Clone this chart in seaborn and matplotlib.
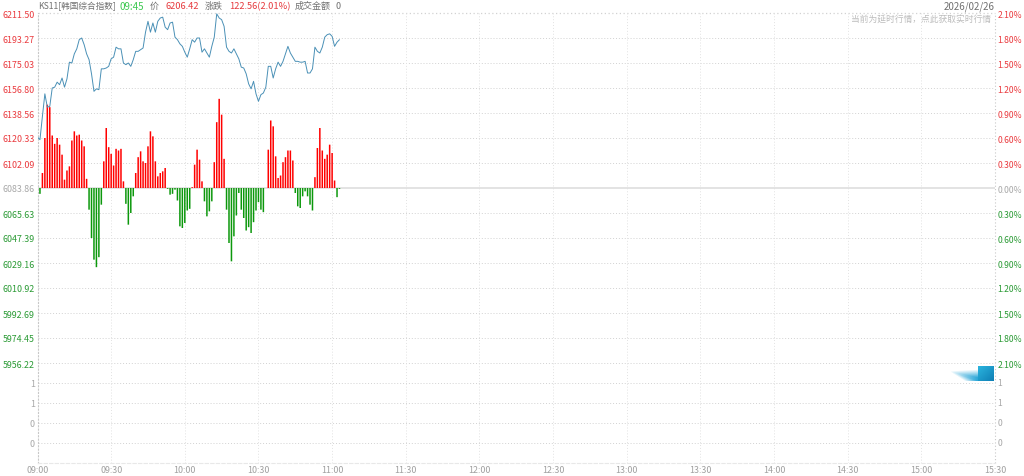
import numpy as np
import pandas as pd
import matplotlib
matplotlib.use("Agg")
import matplotlib.pyplot as plt
import seaborn as sns

time_labels = ["09:00","09:30","10:00","10:30","11:00","11:30","12:00","12:30","13:00","13:30","14:00","14:30","15:00","15:30"]
price_labels = ["6211.50","6193.27","6175.03","6156.80","6138.56","6120.33","6102.09","6083.86","6065.63","6047.39","6029.16","6010.92","5992.69","5974.45","5956.22"]
pct_labels = ["2.10%","1.80%","1.50%","1.20%","0.90%","0.60%","0.30%","0.00%","0.30%","0.60%","0.90%","1.20%","1.50%","1.80%","2.10%"]
pct_ticks = [2.1,1.8,1.5,1.2,0.9,0.6,0.3,0.0,-0.3,-0.6,-0.9,-1.2,-1.5,-1.8,-2.1]
volume_labels = ["1","1","0","0"]
volume_ticks = [-2.34,-2.58,-2.82,-3.06]

line_pct = [.61,.58,.86,1.13,.97,.98,1.20,1.21,1.27,1.24,1.32,1.21,1.31,1.51,1.50,1.61,1.67,1.78,1.80,1.72,1.61,1.54,1.37,1.16,1.19,1.18,1.43,1.43,1.44,1.46,1.55,1.57,1.69,1.67,1.67,1.50,1.48,1.50,1.46,1.54,1.64,1.64,1.66,1.68,1.87,2.00,1.87,1.98,1.87,2.00,2.04,2.05,1.93,1.90,1.98,1.99,1.81,1.78,1.73,1.70,1.63,1.57,1.67,1.78,1.75,1.80,1.80,1.63,1.67,1.62,1.57,1.70,1.81,2.09,2.04,2.02,1.94,1.69,1.64,1.62,1.67,1.61,1.55,1.45,1.44,1.37,1.25,1.19,1.28,1.13,1.04,1.12,1.14,1.21,1.46,1.46,1.32,1.43,1.51,1.46,1.52,1.61,1.70,1.62,1.57,1.52,1.52,1.51,1.51,1.52,1.38,1.38,1.43,1.69,1.64,1.62,1.69,1.81,1.84,1.85,1.82,1.70,1.75,1.78]
bar_pct = [0,-.07,.18,.60,1.00,.97,.63,.53,.60,.52,.40,.10,.21,.26,.57,.68,.63,.64,.57,.50,.11,-.26,-.60,-.86,-.95,-.83,-.20,.32,.72,.49,.41,.27,.47,.45,.47,.08,-.19,-.44,-.30,-.10,.18,.37,.44,.32,.30,.50,.68,.62,.32,.14,.18,.20,.24,-.01,-.08,-.07,-.02,-.15,-.46,-.48,-.42,-.27,-.25,.01,.28,.46,.34,.08,-.16,-.34,-.28,-.16,.31,.79,1.07,.88,.35,-.26,-.66,-.88,-.58,-.33,-.06,-.26,-.36,-.51,-.47,-.54,-.41,-.27,-.17,-.26,-.29,0,.46,.81,.74,.38,.12,.15,.31,.37,.45,.45,.33,-.06,-.22,-.24,-.10,-.04,-.10,-.20,-.27,.13,.48,.72,.45,.35,.40,.52,.42,.09,-.11,-.01]

sns.set_style("white")
plt.rcParams["font.family"] = ["Noto Sans CJK SC", "DejaVu Sans"]

W, H = 1024, 477
L, R, T, B = 37.5, 995.0, 14.0, 464.0
fig = plt.figure(figsize=(W/100, H/100), dpi=100, facecolor="white")
ax = fig.add_axes([L/W, 1-B/H, (R-L)/W, (B-T)/H])

minutes = np.arange(len(bar_pct))
df_bar = pd.DataFrame({"minute": minutes, "pct": bar_pct})
df_bar["side"] = np.where(df_bar["pct"] >= 0, "up", "down")
sns.barplot(data=df_bar, x="minute", y="pct", hue="side", palette={"up": "#ff0000", "down": "#0c980c"},
            native_scale=True, dodge=False, width=0.62, saturation=1, legend=False, ax=ax, linewidth=0, zorder=3)
for patch in ax.patches:
    patch.set_snap(False)
df_line = pd.DataFrame({"minute": np.arange(len(line_pct)), "pct": line_pct})
sns.lineplot(data=df_line, x="minute", y="pct", color="#4a90b6", lw=0.7, ax=ax, zorder=4, errorbar=None)

ax.set_xlim(0, 390)
ax.set_ylim(-3.30, 2.10)
ax.set_xlabel(""); ax.set_ylabel("")
xt = np.arange(len(time_labels)) * 30
ax.set_xticks(xt)
ax.set_xticklabels(time_labels)
ax.set_yticks(pct_ticks + volume_ticks)
ax.set_yticklabels(price_labels + volume_labels)
ax.tick_params(axis="both", length=0, labelsize=6.4, pad=2.0)
ax.tick_params(axis="x", labelcolor="#a0a0a0", pad=1.5)
for lab, val in zip(ax.get_yticklabels(), pct_ticks + volume_ticks):
    lab.set_color("#ea3a3e" if val > 0 and val <= 2.1 else "#a8a8a8" if val == 0 or val < -2.2 else "#2a9a34")

dots = (0, (1, 2))
for v in pct_ticks[1:] + volume_ticks:
    if v != 0:
        ax.axhline(v, color="#d2d2d2", lw=0.7, ls=dots, zorder=1)
ax.axhline(2.1, color="#d2d2d2", lw=0.9, ls=dots, clip_on=False, zorder=1)
ax.axhline(0, color="#dedede", lw=1.2, zorder=2)
for x in xt[1:-1]:
    ax.axvline(x, color="#e2e2e2", lw=0.7, ls=dots, zorder=1)
for side in ["top", "right"]:
    ax.spines[side].set_visible(False)
ax.spines["left"].set_color("#c8c8c8"); ax.spines["left"].set_linestyle(dots); ax.spines["left"].set_linewidth(0.8)
ax.spines["bottom"].set_color("#e8e8e8"); ax.spines["bottom"].set_linestyle((0, (3, 2))); ax.spines["bottom"].set_linewidth(0.8)
ax.axvline(390, color="#c8c8c8", lw=0.8, ls=dots, clip_on=False, zorder=1)

ax2 = ax.twinx()
ax2.set_ylim(ax.get_ylim())
ax2.set_yticks(pct_ticks)
ax2.set_yticklabels(pct_labels)
ax2.tick_params(axis="y", length=0, labelsize=6.2, pad=2.0)
for lab, val in zip(ax2.get_yticklabels(), pct_ticks):
    lab.set_color("#ea3a3e" if val > 0 else "#a8a8a8" if val == 0 else "#2a9a34")
ax2.grid(False)
for s in ax2.spines.values():
    s.set_visible(False)
for v, t in zip(volume_ticks, volume_labels):
    ax2.annotate(t, (1, v), xycoords=("axes fraction", "data"), xytext=(2.0, 0), textcoords="offset points",
                 ha="left", va="center", fontsize=6.2, color="#a8a8a8")

def tx(x, y, s, color, ha="left", size=6.5):
    fig.text(x/W, 1-y/H, s, color=color, ha=ha, va="center", fontsize=size)

grey = "#707070"
tx(38, 6.5, "KS11[韩国综合指数]", grey, size=6.2)
tx(120, 6.5, "09:45", "#3cc850", size=7.0)
tx(150, 6.5, "价", grey)
tx(165, 6.5, "6206.42", "#e63a3e", size=6.7)
tx(205, 6.5, "涨跌", grey)
tx(229, 6.5, "122.56(2.01%)", "#e63a3e", size=6.7)
tx(295, 6.5, "成交金额", grey)
tx(336, 6.5, "0", grey)
tx(995, 6.5, "2026/02/26", grey, ha="right", size=7.0)
tx(991, 20.5, "当前为延时行情，点此获取实时行情", "#bcbcbc", ha="right", size=6.3)

hx = fig.add_axes([950/W, 1-383/H, 44/W, 17/H], zorder=5)
hx.set_axis_off()
tail = np.zeros((16, 28, 4))
tail[..., 0] = 0.15; tail[..., 1] = 0.65; tail[..., 2] = 0.85
yy, xx = np.mgrid[0:16, 0:28]
centre = 6 + xx * 8 / 28
spread = 0.5 + xx * 8 / 28
tail[..., 3] = np.clip((xx / 28) ** 0.9 * np.clip(1.2 - np.abs(yy - centre) / spread, 0, 1), 0, 1)
hx.imshow(tail, extent=(950, 978, 382, 366), aspect="auto", interpolation="bilinear", zorder=1)
grad = np.linspace(0, 1, 32).reshape(-1, 1) * 0.5 + np.linspace(0, 1, 32).reshape(1, -1) * 0.5
hx.imshow(grad, extent=(978, 993.5, 382, 367), aspect="auto", cmap=matplotlib.colors.LinearSegmentedColormap.from_list("h", ["#2bb4de", "#0f7fb5"]), zorder=2)
hx.set_xlim(950, 994); hx.set_ylim(383, 366)

fig.savefig("out.png", dpi=100, facecolor="white")
